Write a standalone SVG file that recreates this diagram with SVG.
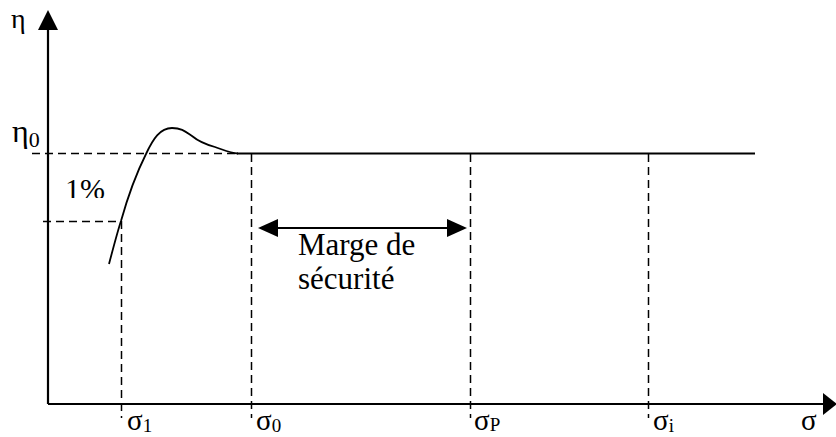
<svg xmlns="http://www.w3.org/2000/svg" width="836" height="437" viewBox="0 0 836 437">
<style>
.ax{stroke:#000;stroke-width:2.2;fill:none}
.dash{stroke:#000;stroke-width:1.5;stroke-dasharray:8 5;fill:none}
.solid{stroke:#000;stroke-width:1.8;fill:none}
</style>
<defs>
<clipPath id="clip1"><rect x="0" y="160" width="120" height="38"/></clipPath>
</defs>
<rect width="836" height="437" fill="#fff"/>
<g id="connectors">
<line class="ax" x1="48" y1="404" x2="48" y2="28"/>
<polygon points="48,10 38,30 58,30" fill="#000"/>
<line class="ax" x1="48" y1="404" x2="824" y2="404"/>
<polygon points="837,404 823,393 823,415" fill="#000"/>
<line class="dash" x1="32" y1="153.5" x2="238" y2="153.5"/>
<line class="dash" x1="43" y1="221.5" x2="122" y2="221.5"/>
<line class="dash" x1="121.5" y1="221" x2="121.5" y2="418"/>
<line class="dash" x1="251.5" y1="154" x2="251.5" y2="418"/>
<line class="dash" x1="470.5" y1="154" x2="470.5" y2="418"/>
<line class="dash" x1="648.5" y1="154" x2="648.5" y2="418"/>
<line class="solid" x1="237" y1="153.5" x2="755" y2="153.5"/>
<path class="solid" d="M109,264 C114,245 118,230 121,221 C128,196 137,172 146,154 C153,139 160,128 172,128 C182,128 186,132 192,136 C198,141 204,144 215,147 C224,150 230,153 238,153.5"/>
<line class="solid" x1="276" y1="228" x2="449" y2="228" stroke-width="2.2"/>
<polygon points="258,228 278,219 278,237" fill="#000"/>
<polygon points="467,228 447,219 447,237" fill="#000"/>
</g>
<g id="labels" font-family="'Liberation Serif', 'Times New Roman', serif" fill="#000">
<g id="eta-axis-label"><text x="11" y="28" font-size="28">η</text></g>
<g id="eta0-label"><text x="12" y="142" font-size="32">η<tspan font-size="22" dy="5">0</tspan></text></g>
<g id="one-percent"><text x="65" y="199" font-size="30" clip-path="url(#clip1)">1%</text></g>
<g id="marge"><text x="298" y="255" font-size="31">Marge de</text><text x="298" y="289" font-size="31">sécurité</text></g>
<g id="sigma1"><text x="127" y="430" font-size="29">σ<tspan font-size="19" dy="2">1</tspan></text></g>
<g id="sigma0"><text x="256" y="430" font-size="29">σ<tspan font-size="19" dy="2">0</tspan></text></g>
<g id="sigmaP"><text x="474" y="430" font-size="29">σ<tspan font-size="19" dy="1">P</tspan></text></g>
<g id="sigmai"><text x="653" y="430" font-size="29">σ<tspan font-size="19" dy="2">i</tspan></text></g>
<g id="sigma"><text x="801" y="430" font-size="29">σ</text></g>
</g>
</svg>
